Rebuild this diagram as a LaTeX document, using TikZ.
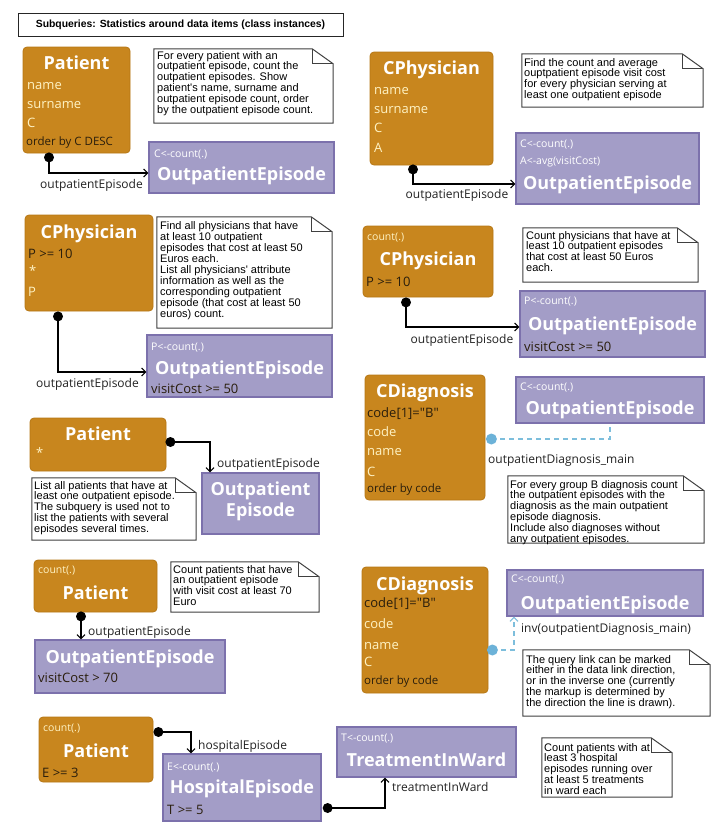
\documentclass[tikz,border=0pt]{standalone}
\usepackage{fontspec}
\setmainfont{Open Sans}
\newfontfamily\boxfont{Open Sans}[Ligatures=TeXOff]
\newfontfamily\notefont{Liberation Sans}[Ligatures=TeXOff]
\usetikzlibrary{arrows.meta,fit,calc}
\definecolor{orfill}{HTML}{C8861E}
\definecolor{orline}{HTML}{B67714}
\definecolor{pufill}{HTML}{A39DC7}
\definecolor{puline}{HTML}{7C71AC}
\definecolor{lighttxt}{HTML}{FFF3C4}
\definecolor{darktxt}{HTML}{2A1E0C}
\definecolor{lblue}{HTML}{7DBEDC}
\definecolor{lbldot}{HTML}{6CB2D8}
\definecolor{lbltxt}{HTML}{222222}
\tikzset{
 obox/.style={fill=orfill, draw=orline, line width=0.8pt, rounded corners=4pt, inner sep=0pt},
 pbox/.style={fill=pufill, draw=puline, line width=1.3pt, inner sep=0pt},
 notebox/.style={inner sep=0pt},
 noteline/.style={draw=black!75, line width=1pt, fill=white, line join=miter},
 hdrbox/.style={draw=black!85, line width=1pt, inner sep=0pt},
 hdrtxt/.style={font=\notefont\bfseries\fontsize{10.4}{12}\selectfont, inner sep=0pt},
 ttl/.style={font=\boxfont\bfseries\fontsize{18}{20}\selectfont, text=white, inner sep=0pt, text height=17pt, text depth=4pt},
 att/.style={font=\boxfont\fontsize{13}{15}\selectfont, text=lighttxt, anchor=west, inner sep=0pt, text height=12pt, text depth=3pt},
 cnd/.style={att, text=darktxt},
 ord/.style={font=\boxfont\fontsize{11.5}{13}\selectfont, text=darktxt, anchor=west, inner sep=0pt, text height=11pt, text depth=3pt},
 agg/.style={font=\boxfont\fontsize{10.5}{12}\selectfont, text=white, anchor=west, inner sep=0pt, text height=10pt, text depth=2.6pt},
 lnk/.style={font=\boxfont\fontsize{12}{14}\selectfont, text=lbltxt, inner sep=0pt, text height=11.4pt, text depth=3pt},
 lnkw/.style={lnk, anchor=west},
 ntxt/.style={font=\notefont\fontsize{11}{10.9}\selectfont, align=left, anchor=north west, inner sep=0pt},
 conn/.style={draw=black, line width=2.2pt, -{Straight Barb[length=4pt,width=8pt,line width=1.1pt]}},
 dconn/.style={draw=lblue, line width=2.2pt, dash pattern=on 5pt off 4pt},
 dconnarr/.style={dconn, -{Straight Barb[length=4pt,width=8pt,line width=1.1pt]}},
}
\newcommand\mknote[8]{%
 \node[notebox, fit={(#2,#3) (#4,#5)}] (#1) {};
 \draw[noteline] (#1.north west) -- ([xshift=-21pt]#1.north east) -- ([yshift=-15pt]#1.north east) -- (#1.south east) -- (#1.south west) -- cycle;
 \draw[noteline, fill=none] ([xshift=-21pt]#1.north east) |- ([yshift=-15pt]#1.north east);
 \node[ntxt] (#1t) at (#6,#7) {#8};
}
\begin{document}
\begin{tikzpicture}[x=1pt,y=-1pt]
\fill[white] (0,0) rectangle (714,838);
\useasboundingbox (0,0) rectangle (714,838);

% header
\node[hdrbox, fit={(18,13) (343,36)}] (hdr) {};
\node[hdrtxt] (hdrt) at (hdr.center) {Subqueries: Statistics around data items (class instances)};

% ---------- group 1
\node[obox, fit={(23,47) (130,153)}] (p1) {};
\node[ttl] (p1t) at (76.5,63) {Patient};
\node[att] (p1a) at (27,85) {name};
\node[att] (p1b) at (27,104) {surname};
\node[att] (p1c) at (27,123) {C};
\node[ord] (p1d) at (26,141) {order by C DESC};
\mknote{n1}{154}{49}{333}{123}{157}{50.9}{For every patient with an\\outpatient episode, count the\\outpatient episodes. Show\\patient's name, surname and\\outpatient episode count, order\\by the outpatient episode count.}
\node[pbox, fit={(149,142) (334,193)}] (q1) {};
\node[agg] (q1a) at (154,154) {C<-count(.)};
\node[ttl] (q1t) at (241.5,174) {OutpatientEpisode};
\coordinate (d1) at ($(p1.south -| 49,0)+(0,4)$);
\draw[conn] (d1) |- (q1.west |- 0,173);
\fill (d1) circle (5pt);
\node[lnk] (l1) at (91.5,184) {outpatientEpisode};

% ---------- group 2
\node[obox, fit={(370,52) (493,165)}] (p2) {};
\node[ttl] (p2t) at (431.5,68) {CPhysician};
\node[att] (p2a) at (374,90) {name};
\node[att] (p2b) at (374,109) {surname};
\node[att] (p2c) at (374,128) {C};
\node[att] (p2d) at (374,148) {A};
\mknote{n2}{522}{54}{703}{107}{524}{57.9}{Find the count and average\\ouptpatient episode visit cost\\for every physician serving at\\least one outpatient episode}
\node[pbox, fit={(516,133) (699,204)}] (q2) {};
\node[agg] (q2a) at (520,144) {C<-count(.)};
\node[agg] (q2b) at (520,161) {A<-avg(visitCost)};
\node[ttl] (q2t) at (607.5,183) {OutpatientEpisode};
\coordinate (d2) at ($(p2.south -| 413,0)+(0,4)$);
\draw[conn] (d2) |- (q2.west |- 0,184);
\fill (d2) circle (5pt);
\node[lnk] (l2) at (457,194) {outpatientEpisode};

% ---------- group 3
\node[obox, fit={(25,215) (153,311)}] (p3) {};
\node[ttl] (p3t) at (89,232) {CPhysician};
\node[cnd] (p3a) at (28,254) {P >= 10};
\node[att] (p3b) at (29,271) {*};
\node[att] (p3c) at (28,292) {P};
\mknote{n3}{157}{217}{332}{328}{160}{221.7}{Find all physicians that have\\at least 10 outpatient\\episodes that cost at least 50\\Euros each.\\List all physicians' attribute\\information as well as the\\corresponding outpatient\\episode (that cost at least 50\\euros) count.}
\node[pbox, fit={(147,335) (332,397)}] (q3) {};
\node[agg] (q3a) at (151,347) {P<-count(.)};
\node[ttl] (q3t) at (239.5,368) {OutpatientEpisode};
\node[cnd] (q3b) at (151,389) {visitCost >= 50};
\coordinate (d3) at ($(p3.south -| 58,0)+(0,5)$);
\draw[conn] (d3) |- (q3.west |- 0,372);
\fill (d3) circle (5pt);
\node[lnk] (l3) at (87.5,383) {outpatientEpisode};

% ---------- group 4
\node[obox, fit={(363,226) (493,297)}] (p4) {};
\node[agg, text=lighttxt] (p4a) at (367,237) {count(.)};
\node[ttl] (p4t) at (428,259) {CPhysician};
\node[cnd] (p4b) at (366,282) {P >= 10};
\mknote{n4}{523}{228}{698}{282}{526}{230.9}{Count physicians that have at\\least 10 outpatient episodes\\that cost at least 50 Euros\\each.}
\node[pbox, fit={(520,291) (705,357)}] (q4) {};
\node[agg] (q4a) at (524,301) {P<-count(.)};
\node[ttl] (q4t) at (612.5,324) {OutpatientEpisode};
\node[cnd] (q4b) at (524,347) {visitCost >= 50};
\coordinate (d4) at ($(p4.south -| 406,0)+(0,5)$);
\draw[conn] (d4) |- (q4.west |- 0,327);
\fill (d4) circle (5pt);
\node[lnk] (l4) at (462,339) {outpatientEpisode};

% ---------- group 5
\node[obox, fit={(30,418) (166,471)}] (p5) {};
\node[ttl] (p5t) at (98,434) {Patient};
\node[att] (p5a) at (36,453) {*};
\mknote{n5}{32}{478}{196}{540}{34}{480.9}{List all patients that have at\\least one outpatient episode.\\The subquery is used not to\\list the patients with several\\episodes several times.}
\node[pbox, fit={(202,473) (319,534)}] (q5) {};
\node[ttl] (q5t) at (260.5,489) {Outpatient};
\node[ttl] (q5u) at (260.5,510) {Episode};
\coordinate (d5) at ($(p5.east |- 0,442)+(4,0)$);
\draw[conn] (d5) -| (q5.north -| 210,0);
\fill (d5) circle (5pt);
\node[lnkw] (l5) at (217,463) {outpatientEpisode};

% ---------- group 6
\node[obox, fit={(365,375) (485,500)}] (p6) {};
\node[ttl] (p6t) at (425,391) {CDiagnosis};
\node[cnd] (p6a) at (367,413) {code[1]="B"};
\node[att] (p6b) at (367,432) {code};
\node[att] (p6c) at (367,451) {name};
\node[att] (p6d) at (367,472) {C};
\node[ord] (p6e) at (367,488) {order by code};
\node[pbox, fit={(516,377) (704,423)}] (q6) {};
\node[agg] (q6a) at (520,387) {C<-count(.)};
\node[ttl] (q6t) at (610,408) {OutpatientEpisode};
\coordinate (d6) at ($(p6.east |- 0,439)+(6,0)$);
\draw[dconn] (d6) -| (q6.south -| 610,0);
\fill[lbldot] (d6) circle (5.5pt);
\node[lnkw] (l6) at (488,459) {outpatientDiagnosis\_main};
\mknote{n6}{508}{476}{704}{543}{510}{479.9}{For every group B diagnosis count\\the outpatient episodes with the\\diagnosis as the main outpatient\\episode diagnosis.\\Include also diagnoses without\\any outpatient episodes.}

% ---------- group 7
\node[obox, fit={(34,560) (157,612)}] (p7) {};
\node[agg, text=lighttxt] (p7a) at (38,570) {count(.)};
\node[ttl] (p7t) at (95.5,593) {Patient};
\mknote{n7}{171}{562}{319}{612}{173}{564.9}{Count patients that have\\an outpatient episode\\with visit cost at least 70\\Euro}
\node[pbox, fit={(35,640) (225,693)}] (q7) {};
\node[ttl] (q7t) at (130,657) {OutpatientEpisode};
\node[cnd] (q7b) at (38,678) {visitCost > 70};
\coordinate (d7) at ($(p7.south -| 81,0)+(0,4)$);
\draw[conn] (d7) -- (q7.north -| 81,0);
\fill (d7) circle (5pt);
\node[lnkw] (l7) at (88,631) {outpatientEpisode};

% ---------- group 8
\node[obox, fit={(362,567) (488,693)}] (p8) {};
\node[ttl] (p8t) at (425,584) {CDiagnosis};
\node[cnd] (p8a) at (364,603) {code[1]="B"};
\node[att] (p8b) at (364,624) {code};
\node[att] (p8c) at (364,645) {name};
\node[att] (p8d) at (364,662) {C};
\node[ord] (p8e) at (364,680) {order by code};
\node[pbox, fit={(507,570) (703,616)}] (q8) {};
\node[agg] (q8a) at (511,579) {C<-count(.)};
\node[ttl] (q8t) at (605,603) {OutpatientEpisode};
\coordinate (d8) at ($(p8.east |- 0,650)+(4,0)$);
\draw[dconnarr] (d8) -| (q8.south -| 514,0);
\fill[lbldot] (d8) circle (5.5pt);
\node[lnkw] (l8) at (521,628) {inv(outpatientDiagnosis\_main)};
\mknote{n8}{523}{650}{710}{716}{526}{654.9}{The query link can be marked\\either in the data link direction,\\or in the inverse one (currently\\the markup is determined by\\the direction the line is drawn).}

% ---------- group 9
\node[obox, fit={(39,717) (153,782)}] (p9) {};
\node[agg, text=lighttxt] (p9a) at (43,728) {count(.)};
\node[ttl] (p9t) at (96,751) {Patient};
\node[cnd] (p9b) at (42,773) {E >= 3};
\node[pbox, fit={(163,754) (321,821)}] (q9) {};
\node[agg] (q9a) at (167,767) {E<-count(.)};
\node[ttl] (q9t) at (242,787) {HospitalEpisode};
\node[cnd] (q9b) at (167,810) {T >= 5};
\coordinate (d9) at ($(p9.east |- 0,732)+(5,0)$);
\draw[conn] (d9) -| (q9.north -| 191,0);
\fill (d9) circle (5pt);
\node[lnkw] (l9) at (198,745) {hospitalEpisode};

\node[pbox, fit={(337,727) (516,777)}] (q10) {};
\node[agg] (q10a) at (341,738) {T<-count(.)};
\node[ttl] (q10t) at (426.5,760) {TreatmentInWard};
\coordinate (d10) at ($(q9.east |- 0,808)+(6,0)$);
\draw[conn] (d10) -| (q10.south -| 385,0);
\fill (d10) circle (5pt);
\node[lnkw] (l10) at (392,787) {treatmentInWard};
\mknote{n10}{542}{738}{672}{797}{544}{742.9}{Count patients with at\\least 3 hospital\\episodes running over\\at least 5 treatments\\in ward each}
\end{tikzpicture}
\end{document}
